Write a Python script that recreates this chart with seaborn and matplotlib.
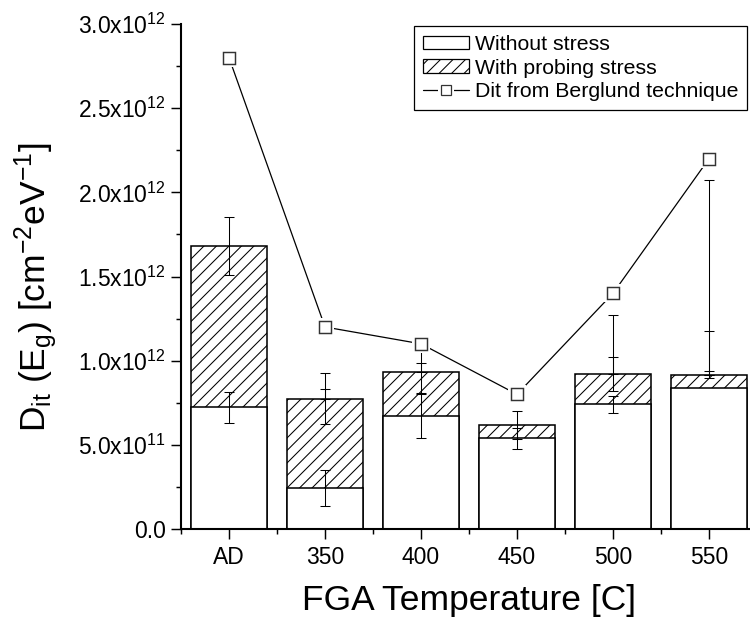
import numpy as np
import pandas as pd
import matplotlib
matplotlib.use("Agg")
import matplotlib.pyplot as plt
from matplotlib.patches import Patch
from matplotlib.lines import Line2D
from matplotlib.legend_handler import HandlerTuple
from matplotlib.ticker import FuncFormatter, MultipleLocator
import seaborn as sns

# Interface trap density per anneal condition
categories = ["AD", "350", "400", "450", "500", "550"]
without_stress = [7.22e11, 2.44e11, 6.71e11, 5.38e11, 7.41e11, 8.40e11]
with_stress = [1.681e12, 7.74e11, 9.35e11, 6.17e11, 9.21e11, 9.16e11]
berglund = [2.8e12, 1.2e12, 1.1e12, 8.0e11, 1.4e12, 2.2e12]

# error bars: symmetric ones plus upper-only extensions on the stressed bars
without_err = [9.0e10, 1.06e11, 1.33e11, 6.2e10, 5.0e10, 0.0]
with_err = [1.70e11, 1.52e11, 1.29e11, 8.2e10, 9.9e10, 2.0e10]
with_err_up = [0.0, 5.6e10, 5.0e10, 0.0, 3.53e11, 2.62e11]
with_err_up2 = [0.0, 0.0, 0.0, 0.0, 0.0, 1.159e12]

DPI = 150
sns.set_theme(style="ticks")
plt.rcParams.update({
    "font.family": ["Liberation Sans", "DejaVu Sans"],
    "mathtext.fontset": "custom",
    "mathtext.rm": "Liberation Sans",
    "mathtext.it": "Liberation Sans:italic",
    "mathtext.default": "regular",
    "hatch.linewidth": 0.5,
    "hatch.color": "black",
    "text.color": "black",
    "axes.labelcolor": "black",
    "xtick.color": "black",
    "ytick.color": "black",
})

fig = plt.figure(figsize=(750 / DPI, 621 / DPI), dpi=DPI)
ax = fig.add_axes([181 / 750, 92 / 621, 576 / 750, 505 / 621])

df = pd.DataFrame({"cat": categories, "without": without_stress,
                   "with": with_stress})

# stressed total (hatched), then unstressed part drawn over it
sns.barplot(data=df, x="cat", y="with", order=categories, ax=ax,
            color="white", edgecolor="black", linewidth=0.75, width=0.8,
            hatch="////", saturation=1)
sns.barplot(data=df, x="cat", y="without", order=categories, ax=ax,
            color="white", edgecolor="black", linewidth=0.75, width=0.8,
            saturation=1)

pos = np.arange(len(categories))
eb_kw = dict(fmt="none", ecolor="black", elinewidth=0.5, capsize=2.2,
             capthick=0.5, zorder=6)

w_err = np.array(without_err)
m = w_err > 0
ax.errorbar(pos[m], np.array(without_stress)[m], yerr=w_err[m], **eb_kw)
ax.errorbar(pos, with_stress, yerr=with_err, **eb_kw)
for up in (with_err_up, with_err_up2):
    up = np.array(up)
    m = up > 0
    ax.errorbar(pos[m], np.array(with_stress)[m],
                yerr=[np.zeros(m.sum()), up[m]], **eb_kw)

# Berglund points: line, white halo, then hollow squares
sns.lineplot(x=pos, y=berglund, ax=ax, color="black", linewidth=0.6,
             zorder=7)
ax.plot(pos, berglund, ls="none", marker="s", ms=9.0, mfc="white",
        mec="white", mew=0, zorder=8)
ax.plot(pos, berglund, ls="none", marker="s", ms=5.8, mfc="white",
        mec="#333333", mew=0.7, zorder=9)

ax.set_xlim(-0.5, 5.5)
ax.set_ylim(0, 3.0e12)


def sci_fmt(v, _):
    if v == 0:
        return "0.0"
    exp = int(np.floor(np.log10(abs(v))))
    man = v / 10 ** exp
    return r"$\mathregular{%.1fx10^{%d}}$" % (man, exp)


ax.yaxis.set_major_locator(MultipleLocator(5e11))
ax.yaxis.set_minor_locator(MultipleLocator(2.5e11))
ax.yaxis.set_major_formatter(FuncFormatter(sci_fmt))
ax.set_xticks(pos)
ax.set_xticklabels(categories)
ax.set_xticks(np.arange(-0.5, 5.6, 1.0), minor=True)

ax.tick_params(axis="both", which="major", direction="out", length=4.8,
               width=0.7, labelsize=11, color="black", pad=2.5)
ax.tick_params(axis="both", which="minor", direction="out", length=2.4,
               width=0.7, color="black")
ax.tick_params(axis="x", which="major", pad=3.5)

for side in ("top", "right"):
    ax.spines[side].set_visible(False)
for side in ("left", "bottom"):
    ax.spines[side].set_linewidth(1.0)
    ax.spines[side].set_color("black")

ax.set_xlabel("FGA Temperature [C]", fontsize=17, labelpad=7)
ax.set_ylabel(r"$\mathregular{D_{it}\ (E_{g})\ [cm^{-2}eV^{-1}]}$",
              fontsize=17)
ax.yaxis.set_label_coords(-0.21, 0.478)

handles = [
    Patch(facecolor="white", edgecolor="black", linewidth=0.6),
    Patch(facecolor="white", edgecolor="black", linewidth=0.6, hatch="////"),
    (Line2D([], [], color="black", linewidth=0.6),
     Line2D([], [], ls="none", marker="s", ms=7.5, mfc="white", mec="white",
            mew=0),
     Line2D([], [], ls="none", marker="s", ms=4.5, mfc="white",
            mec="#333333", mew=0.6)),
]
labels = ["Without stress", "With probing stress",
          "Dit from Berglund technique"]
leg = fig.legend(handles, labels, loc="upper right",
                 bbox_to_anchor=(747 / 750, 1 - 26 / 621), fontsize=10.2,
                 frameon=True, fancybox=False, edgecolor="black",
                 framealpha=1, borderpad=0.42, labelspacing=0.22,
                 handlelength=2.2, handleheight=0.6, handletextpad=0.25,
                 borderaxespad=0,
                 handler_map={tuple: HandlerTuple(ndivide=1)})
leg.get_frame().set_linewidth(0.6)

fig.savefig("out.png", dpi=DPI)
